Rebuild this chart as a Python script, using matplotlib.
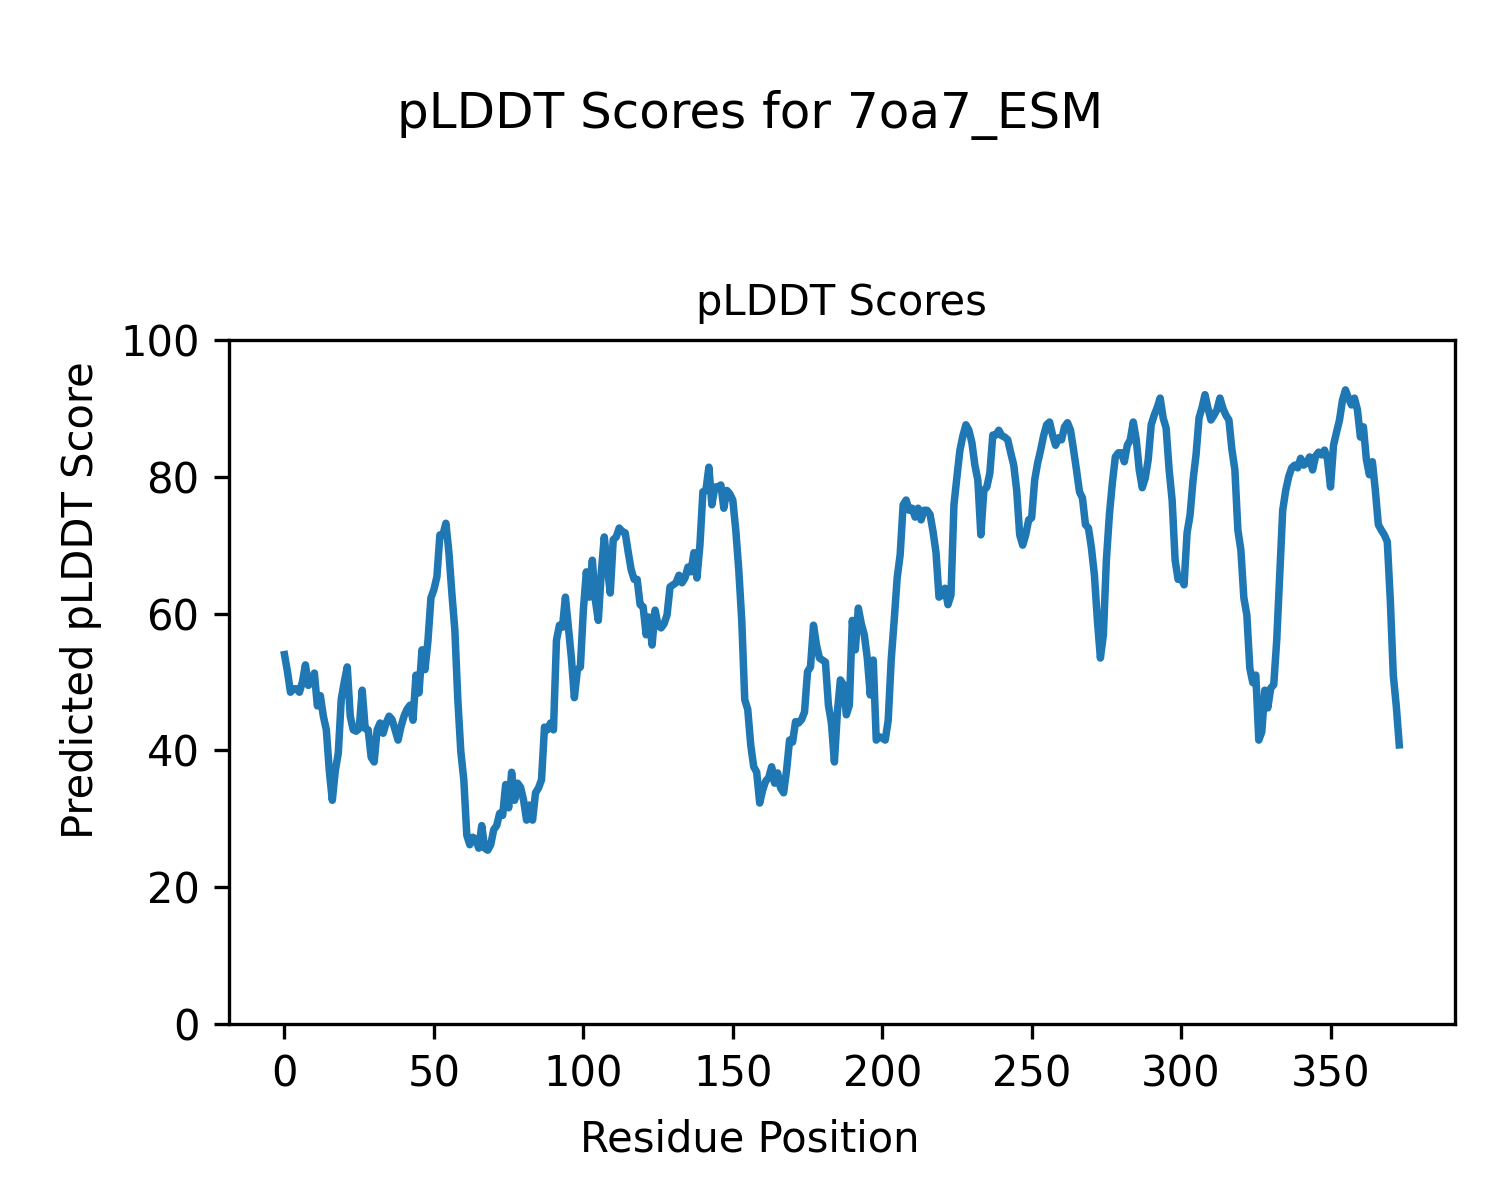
import matplotlib
matplotlib.use("Agg")
import matplotlib.pyplot as plt
import numpy as np

# pLDDT per residue
plddt = [
    54, 51.5, 48.5, 49, 49, 48.5, 50, 52.5, 49.5, 50,
    51.3, 46.5, 48, 45, 43, 37, 32.7, 37, 39.6, 47.5,
    50, 52.2, 45, 43, 42.8, 43.2, 48.8, 43.2, 43, 39,
    38.3, 43, 44, 42.5, 44, 45, 44.5, 43, 41.5, 43.5,
    45, 46, 46.6, 44.4, 51, 48.4, 54.7, 51.8, 56, 62.3,
    63.5, 65.4, 71.5, 71.5, 73.2, 69, 63, 57.6, 47.4, 39.8,
    35.7, 27.6, 26.2, 27.3, 27, 25.7, 29, 25.7, 25.4, 26.2,
    28.4, 29, 30.8, 30.5, 35, 31.6, 36.8, 32.7, 35.2, 34.6,
    32.7, 29.8, 32, 29.8, 33.8, 34.5, 35.7, 43.4, 43, 44,
    43, 56.1, 58.3, 58, 62.4, 58, 53.5, 47.7, 51.8, 52.2,
    60.5, 66.1, 62.4, 67.8, 62, 59, 66, 71.2, 67, 63,
    70.8, 71.2, 72.5, 72, 71.8, 69, 66.4, 65, 65, 61.3,
    61, 56.9, 59.5, 55.4, 60.5, 58.3, 57.9, 58.5, 59.8, 63.9,
    64.2, 64.5, 65.6, 64.5, 65.2, 66.8, 66.1, 68.9, 65.2, 70,
    77.8, 78, 81.4, 75.9, 78.5, 78.5, 78.8, 75.4, 78, 77.5,
    76.6, 72.2, 66.4, 59, 47.4, 46, 40.8, 37.6, 36.8, 32.3,
    34.2, 35.5, 36, 37.6, 35.2, 36.7, 34.5, 33.8, 37.1, 41.5,
    41.2, 44.2, 44, 44.5, 45.6, 51.5, 52.2, 58.3, 55.4, 53.5,
    53.2, 52.9, 46.6, 44, 38.3, 45.6, 50.3, 49.6, 45.2, 46.6,
    59, 54.7, 60.8, 58.5, 56.9, 53.5, 48.1, 53.2, 41.5, 42,
    41.8, 41.5, 44.4, 53.2, 59, 65.2, 68.6, 75.9, 76.6, 75.1,
    75.4, 74.1, 75.4, 73.7, 75.1, 75.1, 74.5, 72, 68.9, 62.4,
    62.7, 63.7, 61.3, 62.7, 75.9, 80, 83.9, 86, 87.6, 86.8,
    85, 81.7, 79.5, 71.5, 78, 78.5, 80.5, 86.1, 86.1, 86.8,
    86, 85.8, 85.4, 83.5, 81.7, 78, 71.5, 70, 71.5, 73.7,
    74, 79.5, 82, 83.9, 86, 87.6, 88, 86.1, 84.6, 85.7,
    85.4, 87.3, 87.9, 86.8, 84, 81, 77.8, 76.9, 73, 72.5,
    69.6, 65.6, 59, 53.5, 56.9, 67.8, 74.4, 79.1, 82.9, 83.5,
    83.5, 82.2, 84.6, 85.4, 88, 85.4, 81, 78.4, 79.8, 82.5,
    87.6, 89, 90.1, 91.5, 88.6, 87.1, 81, 76.6, 67.8, 65,
    65.2, 64.2, 71.8, 74.4, 79.5, 83.2, 88.6, 90.1, 92, 90,
    88.3, 89, 89.8, 91.5, 90, 89, 88.3, 84, 81, 72.2,
    69.3, 62.3, 59.8, 52, 49.9, 51, 41.5, 42.7, 48.8, 46.2,
    49.1, 49.6, 56.1, 65.6, 75.1, 78, 80, 81.3, 81.7, 81.3,
    82.7, 81.7, 82, 82.9, 81, 83, 83.6, 83.2, 83.9, 82.5,
    78.5, 84.6, 86.5, 88.3, 91.2, 92.7, 91.5, 90.5, 91.5, 89.8,
    85.8, 87.3, 82.5, 80.3, 82.2, 78, 73, 72.2, 71.5, 70.5,
    62, 51, 46.5, 40.8,
]
residues = np.arange(len(plddt))

fig = plt.figure(figsize=(5, 4), dpi=300)
ax = fig.add_axes([0.1525, 0.1467, 0.8175, 0.57])
ax.plot(residues, plddt, linewidth=1.8)
ax.set_ylim(0, 100)
ax.set_title('pLDDT Scores', fontsize=10)

# shared labels placed on the figure
fig.text(0.5, 0.04, 'Residue Position', ha='center')
fig.text(0.04, 0.5, 'Predicted pLDDT Score', va='center', rotation='vertical')
fig.suptitle('pLDDT Scores for 7oa7_ESM', y=0.925)
fig.savefig('out.png', dpi=300)
